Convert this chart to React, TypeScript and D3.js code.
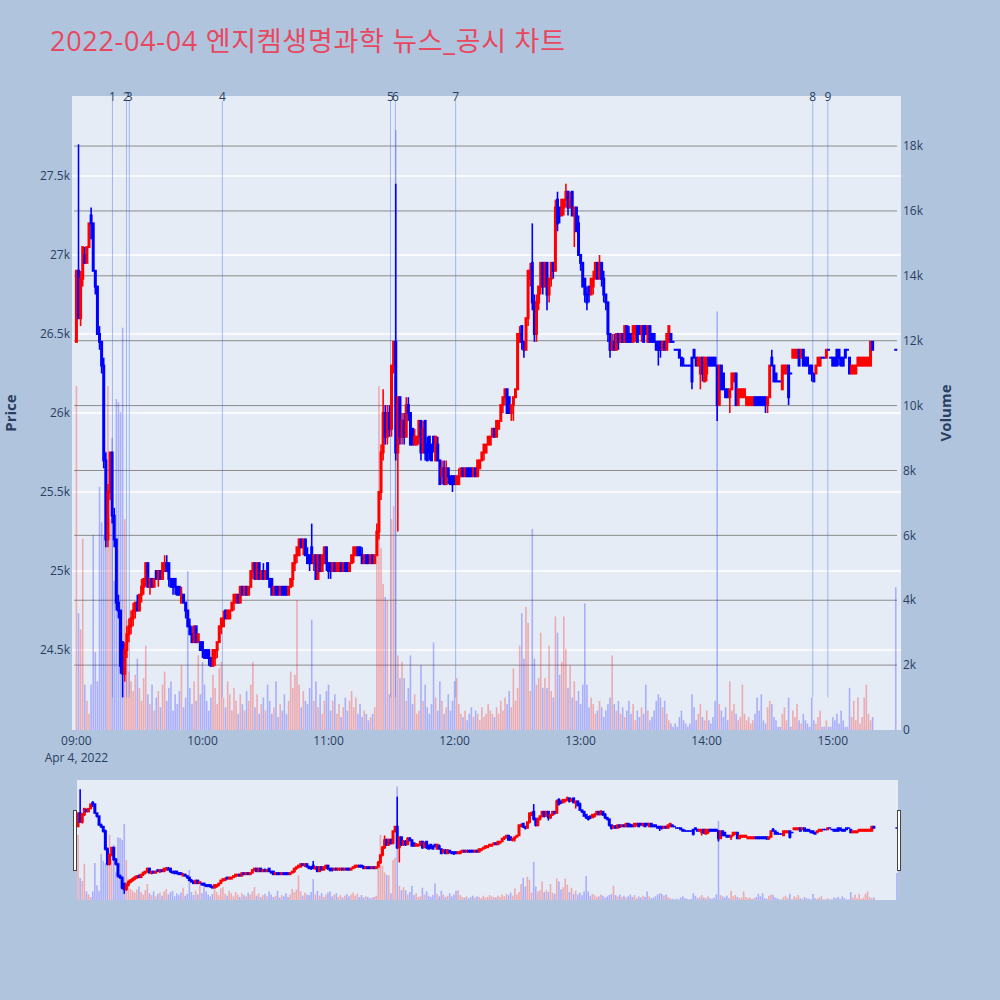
import React from 'react';
import * as d3 from 'd3';

const titleText = '2022-04-04 엔지켐생명과학 뉴스_공시 차트';

// one candle per minute from 09:00 to 15:19, then the 15:30 closing auction
const opens = [
  26450,26900,26600,26850,27000,26950,27050,27250,27200,26900,
  26800,26500,26450,26300,25700,25200,25500,25750,25350,25200,
  24800,24750,24550,24350,24500,24600,24650,24700,24750,24800,
  24750,24850,24900,24950,25050,24900,24950,24900,25000,24950,
  25000,24950,25000,25050,25050,24950,24950,24950,24900,24900,
  24800,24850,24800,24750,24650,24600,24550,24650,24550,24550,
  24550,24500,24500,24500,24450,24400,24450,24500,24550,24650,
  24650,24750,24700,24700,24750,24800,24800,24850,24800,24900,
  24850,24900,24850,24900,25000,25050,24950,25050,24950,25000,
  24950,25050,24950,24950,24850,24900,24900,24850,24900,24900,
  24900,24850,24900,24950,25050,25100,25100,25200,25150,25200,
  25100,25100,25150,25050,25100,24950,25100,25000,25050,25150,
  25050,25050,25000,25050,25000,25000,25050,25000,25050,25050,
  25000,25050,25100,25100,25150,25150,25100,25050,25100,25100,
  25050,25100,25050,25100,25250,25500,25750,26000,25850,26000,
  25900,26300,26450,25750,26100,25850,25950,25850,26050,26000,
  25900,25800,25800,25850,25950,25750,25950,25800,25850,25800,
  25850,25700,25800,25700,25600,25650,25550,25650,25600,25600,
  25600,25550,25550,25600,25650,25600,25650,25650,25650,25600,
  25650,25600,25650,25700,25750,25750,25800,25800,25850,25900,
  25850,25900,25950,26050,26100,26150,26100,26000,26050,26100,
  26150,26450,26550,26450,26400,26600,26850,26950,26700,26500,
  26700,26800,26950,26800,26950,26750,26850,26950,26900,27350,
  27300,27250,27300,27350,27400,27300,27400,27250,27300,27200,
  27000,26950,26850,26750,26800,26750,26800,26850,26950,26850,
  26950,26850,26750,26700,26500,26400,26450,26400,26500,26450,
  26500,26450,26550,26500,26500,26450,26500,26550,26550,26500,
  26550,26550,26450,26550,26500,26500,26450,26450,26450,26400,
  26450,26400,26450,26500,26450,26400,26400,26400,26350,26300,
  26300,26300,26300,26350,26400,26350,26300,26250,26350,26200,
  26250,26350,26350,26350,26350,26300,26050,26300,26250,26150,
  26150,26100,26150,26200,26250,26050,26100,26100,26100,26050,
  26050,26050,26050,26100,26100,26100,26100,26100,26100,26050,
  26100,26350,26300,26250,26200,26200,26150,26250,26250,26300,
  26250,26350,26350,26350,26400,26350,26400,26350,26350,26300,
  26300,26250,26250,26300,26300,26350,26350,26350,26400,26350,
  26350,26350,26400,26400,26350,26350,26400,26400,26350,26250,
  26250,26250,26300,26300,26300,26300,26300,26300,26300,26450,
  26400,
];

const highs = [
  26900,27700,26900,27050,27050,27050,27200,27300,27200,26900,
  26800,26550,26450,26350,25750,25550,25750,25750,25400,25200,
  24850,24750,24550,24550,24650,24700,24750,24800,24800,24850,
  24850,24950,24950,25050,25050,24950,24950,24950,25000,25000,
  25000,25050,25100,25100,25050,24950,24950,24950,24900,24900,
  24900,24850,24800,24750,24700,24650,24650,24650,24600,24550,
  24550,24500,24500,24500,24450,24500,24500,24550,24650,24700,
  24750,24750,24750,24750,24800,24850,24850,24850,24900,24900,
  24900,24900,24900,25000,25050,25050,25050,25050,25000,25050,
  25000,25050,24950,24950,24900,24900,24900,24900,24900,24900,
  24900,24900,24950,25050,25100,25150,25200,25200,25200,25200,
  25150,25100,25300,25100,25100,25100,25100,25100,25150,25150,
  25050,25050,25050,25050,25050,25050,25050,25050,25050,25050,
  25050,25100,25150,25150,25150,25150,25150,25100,25100,25100,
  25100,25100,25100,25300,25500,25800,26150,26050,26050,26050,
  26300,26450,27450,26100,26100,26000,26000,26100,26100,26000,
  25900,25900,25850,25950,25950,25950,25950,25850,25850,25800,
  25850,25850,25850,25700,25700,25700,25700,25650,25600,25600,
  25600,25600,25650,25650,25650,25650,25650,25650,25650,25650,
  25650,25700,25700,25750,25800,25800,25850,25850,25900,25900,
  25950,25950,26050,26100,26150,26150,26100,26050,26100,26150,
  26500,26550,26550,26450,26600,26900,26950,27200,26750,26750,
  26800,26950,26950,26950,26950,26850,26950,26950,27350,27400,
  27300,27350,27350,27450,27400,27400,27400,27300,27300,27250,
  27000,26950,26850,26800,26800,26850,26900,26950,26950,27000,
  26950,26900,26750,26700,26500,26500,26500,26500,26500,26500,
  26500,26550,26550,26550,26500,26550,26550,26550,26550,26550,
  26550,26550,26550,26550,26500,26500,26450,26450,26450,26450,
  26450,26500,26550,26500,26450,26400,26400,26400,26350,26350,
  26300,26300,26300,26350,26400,26350,26350,26350,26350,26350,
  26350,26350,26350,26350,26350,26300,26300,26300,26250,26150,
  26150,26150,26250,26250,26250,26150,26150,26150,26150,26100,
  26100,26100,26100,26100,26100,26100,26100,26100,26100,26100,
  26300,26400,26300,26250,26200,26200,26300,26300,26300,26300,
  26250,26400,26400,26400,26400,26400,26400,26350,26350,26300,
  26300,26250,26300,26350,26350,26350,26350,26400,26400,26350,
  26350,26350,26400,26400,26350,26350,26400,26400,26350,26300,
  26300,26300,26350,26350,26350,26350,26350,26350,26450,26450,
  26400,
];

const lows = [
  26450,26600,26550,26800,26950,26950,27050,27100,26900,26750,
  26500,26400,26250,25650,25150,25150,25450,25300,25150,24750,
  24700,24350,24200,24300,24450,24550,24600,24650,24700,24750,
  24750,24800,24850,24900,24900,24850,24900,24900,24950,24900,
  24950,24950,25000,25000,24900,24900,24850,24850,24850,24850,
  24800,24800,24700,24650,24600,24550,24550,24550,24550,24500,
  24450,24450,24450,24400,24400,24400,24400,24450,24550,24600,
  24650,24700,24700,24700,24750,24750,24800,24800,24800,24850,
  24850,24850,24850,24900,24950,24950,24950,24950,24950,24950,
  24950,24950,24900,24850,24850,24850,24850,24850,24850,24850,
  24850,24850,24900,24900,25000,25050,25100,25150,25100,25100,
  25050,25000,25050,25000,24950,24950,25000,25000,25050,25000,
  24950,24950,25000,25000,25000,25000,25000,25000,25000,25000,
  25000,25050,25050,25100,25100,25100,25050,25050,25050,25050,
  25050,25050,25050,25100,25200,25450,25700,25800,25800,25850,
  25850,26250,25700,25250,25800,25800,25800,25850,25950,25800,
  25800,25800,25800,25800,25700,25750,25700,25700,25700,25700,
  25750,25700,25700,25550,25550,25550,25550,25550,25550,25500,
  25550,25550,25550,25600,25600,25600,25600,25600,25600,25600,
  25600,25600,25650,25700,25700,25750,25800,25800,25850,25850,
  25850,25900,25950,26000,26050,26000,26000,25950,25950,26100,
  26150,26450,26400,26350,26400,26550,26800,26650,26450,26450,
  26650,26750,26750,26800,26650,26700,26800,26850,26900,27150,
  27200,27250,27250,27300,27250,27300,27250,27050,27150,27000,
  26900,26800,26700,26650,26700,26750,26750,26850,26850,26850,
  26800,26700,26650,26450,26350,26400,26400,26400,26400,26450,
  26450,26450,26450,26450,26450,26450,26450,26450,26500,26450,
  26450,26500,26450,26450,26450,26450,26400,26300,26350,26400,
  26400,26400,26450,26450,26450,26400,26400,26350,26300,26300,
  26300,26300,26300,26150,26350,26300,26300,26150,26200,26200,
  26200,26300,26300,26300,26300,25950,26050,26150,26150,26100,
  26100,26000,26150,26200,26050,26050,26100,26100,26100,26050,
  26050,26050,26050,26050,26050,26050,26050,26050,26000,26000,
  26100,26300,26200,26200,26200,26200,26150,26250,26250,26050,
  26250,26350,26350,26350,26300,26350,26300,26300,26300,26250,
  26200,26200,26250,26300,26300,26350,26350,26350,26400,26350,
  26300,26300,26300,26300,26300,26300,26350,26400,26250,26250,
  26250,26250,26300,26300,26300,26300,26300,26300,26300,26400,
  26400,
];

const closes = [
  26900,26600,26850,27050,26950,27050,27200,27200,26900,26800,
  26500,26450,26300,25700,25200,25500,25750,25350,25200,24800,
  24750,24400,24350,24500,24600,24650,24700,24750,24800,24750,
  24850,24900,24950,25050,24900,24950,24900,24950,24950,25000,
  24950,25050,25050,25000,24950,24900,24900,24900,24850,24850,
  24850,24800,24750,24650,24600,24550,24650,24550,24600,24500,
  24500,24450,24450,24450,24400,24500,24500,24550,24650,24700,
  24700,24700,24750,24750,24800,24850,24850,24800,24900,24850,
  24900,24850,24900,25000,25050,24950,25050,24950,25000,24950,
  25000,24950,24900,24850,24900,24850,24850,24900,24850,24850,
  24850,24900,24950,25050,25100,25150,25200,25150,25200,25100,
  25050,25050,25050,25100,24950,25100,25000,25100,25150,25050,
  25000,25000,25050,25000,25050,25050,25000,25050,25000,25000,
  25050,25100,25150,25150,25100,25100,25050,25100,25050,25050,
  25100,25050,25100,25250,25500,25750,26000,25850,26000,25900,
  26300,26450,25750,26100,25850,25950,25850,26050,26000,25800,
  25800,25850,25850,25950,25750,25900,25750,25700,25750,25700,
  25800,25850,25700,25550,25650,25550,25650,25600,25550,25550,
  25550,25600,25600,25650,25600,25650,25600,25600,25600,25650,
  25600,25700,25700,25750,25800,25800,25850,25850,25900,25850,
  25950,25950,26050,26100,26150,26000,26000,26050,26100,26150,
  26500,26500,26450,26400,26600,26900,26900,26700,26500,26700,
  26800,26950,26800,26950,26750,26850,26950,26900,27300,27200,
  27250,27350,27350,27400,27300,27350,27250,27300,27150,27000,
  26950,26800,26750,26700,26750,26850,26850,26950,26850,26950,
  26850,26750,26700,26500,26400,26450,26400,26500,26450,26500,
  26450,26550,26450,26450,26450,26550,26550,26450,26500,26550,
  26450,26500,26550,26450,26450,26450,26400,26400,26400,26450,
  26400,26500,26550,26450,26450,26400,26400,26350,26300,26300,
  26300,26300,26300,26200,26350,26300,26350,26350,26250,26350,
  26350,26300,26300,26300,26300,26050,26300,26150,26150,26100,
  26100,26150,26250,26250,26050,26150,26150,26150,26150,26100,
  26100,26100,26100,26050,26050,26050,26050,26050,26050,26100,
  26300,26300,26200,26200,26200,26200,26300,26300,26300,26100,
  26250,26400,26400,26400,26300,26400,26300,26300,26300,26250,
  26250,26200,26300,26350,26350,26350,26350,26400,26400,26350,
  26300,26300,26300,26350,26300,26300,26350,26400,26250,26300,
  26300,26300,26350,26350,26350,26350,26350,26350,26450,26400,
  26400,
];

const volumes = [
  10600,3600,3100,5900,1400,900,500,1400,6000,2400,
  1500,7500,6400,6000,8600,10600,6500,9000,4600,10200,
  10100,9800,12400,6500,3400,1800,1500,1200,1700,2200,
  1300,900,1600,2600,1100,800,1400,600,1000,1200,
  700,1400,1800,900,1300,1500,600,1100,800,1200,
  2000,700,1000,4900,1300,800,1500,900,2300,1100,
  2100,1400,900,600,1000,1700,1300,800,1900,2100,
  1000,700,1500,1100,600,1300,900,500,1100,800,
  600,1200,900,1400,2100,700,1100,500,800,1000,
  600,1400,900,500,700,1500,400,800,600,1100,
  500,900,1800,1300,1700,4000,1400,700,1200,900,
  800,1300,3400,900,1500,700,1100,500,900,1200,
  1400,600,900,1100,500,800,400,700,1000,600,
  900,1200,700,1000,500,800,400,600,500,300,
  400,500,700,5800,10600,5600,4500,4100,4000,1100,
  6500,6900,18500,2300,1600,2100,1600,900,1300,2300,
  800,1100,500,600,2000,900,1400,700,500,800,
  2700,1000,600,1500,900,500,700,1100,600,900,
  1500,1600,800,500,400,600,300,500,700,400,
  600,500,300,700,400,500,800,600,500,400,
  700,500,900,600,1000,800,1200,700,1900,900,
  1300,2600,3600,2200,3800,3300,1200,6200,2200,1400,
  1600,3000,1300,1600,1300,2600,1200,1000,3500,3000,
  1700,2100,3500,2500,1300,2000,1000,1500,900,1200,
  800,1400,3900,1400,700,1000,800,500,600,900,
  700,400,600,800,1000,2300,800,600,900,500,
  700,400,600,900,500,800,300,600,400,700,
  500,1400,600,300,400,600,900,1100,1000,700,
  900,500,300,200,100,200,100,400,600,300,
  200,100,200,1100,700,300,500,800,400,300,
  600,300,200,400,900,12900,800,600,400,700,
  300,1500,600,800,500,300,400,1400,500,300,
  400,200,300,500,1000,600,1100,300,200,700,
  900,800,400,300,100,100,500,700,300,1000,
  100,600,400,800,300,200,500,300,200,100,
  1000,300,200,400,600,100,100,300,100,100,
  400,300,500,200,600,300,100,100,1300,400,
  900,300,1000,200,400,1000,1400,500,300,400,
  4400,
];

// minutes after 09:00 for each candle (continuous session, then 15:30 auction)
const minuteOffsets = [...d3.range(0, 380), 390];

const newsLabels = ['1', '2', '3', '4', '5', '6', '7', '8', '9'];
const newsTimes = ['09:17:10', '09:23:50', '09:25:10', '10:09:30', '11:29:30', '11:31:50', '12:00:30', '14:50:30', '14:57:40'];

const priceTicks = [24500, 25000, 25500, 26000, 26500, 27000, 27500];
const volumeTicks = [0, 2000, 4000, 6000, 8000, 10000, 12000, 14000, 16000, 18000];
const hourTicks = ['09:00', '10:00', '11:00', '12:00', '13:00', '14:00', '15:00'];
const dateLabel = 'Apr 4, 2022';

const priceRange = [23994, 28006];
const volumeRange = [0, 19543];

const INC = '#FF0000';
const DEC = '#0000FF';
const INC_V = 'rgba(255,0,0,0.28)';
const DEC_V = 'rgba(0,0,255,0.26)';
const FONT = "'Open Sans', 'Noto Sans', sans-serif";
const TXT = '#2a3f5f';

const base = new Date(2022, 3, 4, 9, 0, 0);
const at = (m: number) => new Date(base.getTime() + m * 60000);
const parseT = d3.timeParse('%Y-%m-%d %H:%M:%S');

export default function App() {
  const plot = { left: 72, right: 901, top: 96, bottom: 730 };
  const sl = { left: 77, right: 898, top: 780, bottom: 900 };
  const times = minuteOffsets.map(at);

  const x = d3.scaleTime().domain([at(-2.1), at(392.5)]).range([plot.left, plot.right]);
  const y = d3.scaleLinear().domain(priceRange).range([plot.bottom, plot.top]);
  const yv = d3.scaleLinear().domain(volumeRange).range([plot.bottom, plot.top]);
  const xs = d3.scaleTime().domain([at(-0.5), at(390.5)]).range([sl.left, sl.right]);
  const ys = y.copy().range([sl.bottom, sl.top]);
  const yvs = yv.copy().range([sl.bottom, sl.top]);
  const fmt = d3.format('~s');
  const hourFmt = d3.timeFormat('%H:%M');
  const hours = hourTicks.map((h) => parseT(`2022-04-04 ${h}:00`) as Date);
  const news = newsTimes.map((t) => parseT(`2022-04-04 ${t}`) as Date);
  const minLow = d3.min(lows) as number;

  const isUp = (i: number) => closes[i] > opens[i];

  const drawVolumes = (xs_: any, ys_: any, w: number, y0: number) =>
    times.map((t, i) => {
      const cx = xs_(t);
      const top = ys_(volumes[i]);
      return (
        <rect key={`v${i}`} x={cx - w / 2} y={top} width={w} height={y0 - top}
          fill={isUp(i) ? INC_V : DEC_V} />
      );
    });

  const drawCandles = (xs_: any, ys_: any, bodyW: number, wickW: number, pad: number) =>
    times.map((t, i) => {
      const o = opens[i], h = highs[i], l = lows[i], c = closes[i];
      const col = isUp(i) ? INC : DEC;
      const cx = xs_(t);
      const yTop = ys_(Math.max(o, c));
      const yBot = ys_(Math.min(o, c));
      return (
        <g key={`c${i}`}>
          <line x1={cx} x2={cx} y1={ys_(h)} y2={ys_(l)} stroke={col} strokeWidth={wickW} />
          <rect x={cx - bodyW / 2} y={yTop - pad / 2} width={bodyW} height={yBot - yTop + pad} fill={col} />
        </g>
      );
    });

  return (
    <svg width={1000} height={1000} style={{ position: 'absolute', left: 0, top: 0, display: 'block' }}
      fontFamily={FONT}>
      <defs>
        <clipPath id="mainClip">
          <rect x={plot.left} y={plot.top} width={plot.right - plot.left} height={plot.bottom - plot.top} />
        </clipPath>
        <clipPath id="sliderClip">
          <rect x={sl.left} y={sl.top} width={sl.right - sl.left} height={sl.bottom - sl.top} />
        </clipPath>
      </defs>
      <rect x={0} y={0} width={1000} height={1000} fill="#B0C4DE" />

      <text x={50} y={50.5} fontSize={27} fill="rgb(232,72,95)"
        fontFamily="'Open Sans', 'Noto Sans CJK KR', sans-serif"
        textLength={515} lengthAdjust="spacing">{titleText}</text>

      {/* main plot */}
      <rect x={plot.left} y={plot.top} width={plot.right - plot.left} height={plot.bottom - plot.top} fill="#E5ECF6" />
      {priceTicks.map((p) => (
        <line key={`pg${p}`} x1={plot.left} x2={plot.right} y1={y(p)} y2={y(p)} stroke="#ffffff" strokeWidth={1.5} />
      ))}
      {volumeTicks.filter((v) => v > 0).map((v) => (
        <line key={`vg${v}`} x1={74} x2={897} y1={yv(v)} y2={yv(v)} stroke="rgb(140,140,140)" strokeWidth={1} />
      ))}
      <g clipPath="url(#mainClip)">
        {drawVolumes(x, yv, 1.6, plot.bottom)}
        {news.map((d, i) => (
          <line key={`n${i}`} x1={x(d)} x2={x(d)} y1={101} y2={y(minLow)} stroke="rgba(65,105,225,0.4)" strokeWidth={1} />
        ))}
        {drawCandles(x, y, 3, 1.6, 2)}
      </g>
      {news.map((d, i) => (
        <text key={`nl${i}`} x={x(d)} y={100.5} fontSize={12} fill={TXT} textAnchor="middle">{newsLabels[i]}</text>
      ))}

      {/* left price axis */}
      {priceTicks.map((p) => (
        <text key={`pt${p}`} x={70} y={y(p)} dy="0.35em" fontSize={12} fill={TXT} textAnchor="end">{fmt(p)}</text>
      ))}
      <text transform={`translate(15.5,413) rotate(-90)`} fontSize={15} fontWeight="bold" fill={TXT} textAnchor="middle">Price</text>

      {/* right volume axis */}
      {volumeTicks.map((v) => (
        <text key={`vt${v}`} x={903} y={yv(v)} dy="0.35em" fontSize={12} fill={TXT} textAnchor="start">{fmt(v)}</text>
      ))}
      <text transform={`translate(951,413) rotate(-90)`} fontSize={15} fontWeight="bold" fill={TXT} textAnchor="middle">Volume</text>

      {/* time axis */}
      {hours.map((h, i) => (
        <text key={`ht${i}`} x={x(h)} y={741} dy="0.35em" fontSize={12} fill={TXT} textAnchor="middle">{hourFmt(h)}</text>
      ))}
      <text x={x(hours[0])} y={757.5} dy="0.35em" fontSize={12} fill={TXT} textAnchor="middle">{dateLabel}</text>

      {/* range slider */}
      <rect x={sl.left} y={sl.top} width={sl.right - sl.left} height={sl.bottom - sl.top} fill="#E5ECF6" />
      <g clipPath="url(#sliderClip)">
        {drawVolumes(xs, yvs, 1.6, sl.bottom)}
        {drawCandles(xs, ys, 3, 1.6, 1.5)}
      </g>
      <rect x={73.5} y={810.5} width={3} height={60} fill="#ffffff" stroke="#444" strokeWidth={1} />
      <rect x={897.5} y={810.5} width={3} height={60} fill="#ffffff" stroke="#444" strokeWidth={1} />
    </svg>
  );
}
